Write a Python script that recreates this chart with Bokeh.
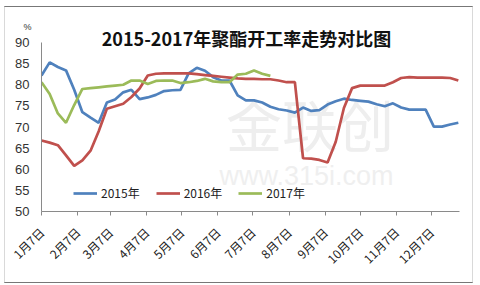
from bokeh.plotting import figure
from bokeh.models import Range1d, FixedTicker, Label, Legend, LegendItem
from bokeh.embed import file_html
from bokeh.resources import INLINE

# ---- data (weekly readings, x = days after 1月7日) ----
tick_days = [0, 31, 59, 90, 120, 151, 181, 212, 243, 273, 304, 334]
tick_labels = ["1月7日", "2月7日", "3月7日", "4月7日", "5月7日", "6月7日",
               "7月7日", "8月7日", "9月7日", "10月7日", "11月7日", "12月7日"]

y2015 = [82.2, 85.3, 84.2, 83.4, 78.8, 73.5, 72.2, 71.0, 75.8, 76.5,
         78.2, 78.8, 76.6, 77.0, 77.6, 78.5, 78.7, 78.8, 82.7, 84.0,
         83.3, 81.8, 81.0, 81.0, 77.5, 76.3, 76.3, 75.8, 74.8, 74.2,
         73.9, 73.4, 74.6, 73.8, 74.0, 75.3, 76.1, 76.7, 76.4, 76.2,
         76.0, 75.4, 74.9, 75.6, 74.6, 74.1, 74.1, 74.1, 70.1, 70.1,
         70.6, 71.0]
y2016 = [66.8, 66.3, 65.7, 63.3, 60.8, 62.1, 64.4, 69.0, 74.3, 74.9,
         75.5, 77.1, 79.1, 82.2, 82.6, 82.7, 82.7, 82.7, 82.7, 82.5,
         82.3, 82.1, 81.9, 81.7, 81.5, 81.4, 81.4, 81.3, 81.3, 81.0,
         80.6, 80.6, 62.6, 62.5, 62.2, 61.6, 66.5, 74.5, 79.2, 79.8,
         79.8, 79.8, 79.8, 80.6, 81.6, 81.8, 81.7, 81.7, 81.7, 81.7,
         81.6, 81.0]
y2017 = [80.6, 77.8, 73.2, 71.0, 75.2, 79.0, 79.2, 79.4, 79.6, 79.8,
         80.0, 81.0, 81.0, 80.2, 80.9, 81.0, 81.0, 80.4, 80.6, 80.9,
         81.4, 80.8, 80.6, 80.6, 82.4, 82.6, 83.4, 82.6, 82.1]
series_names = ["2015年", "2016年", "2017年"]
colors = ["#4F81BD", "#C0504D", "#9BBB59"]

x2015 = [7 * i for i in range(len(y2015))]
x2016 = [7 * i for i in range(len(y2016))]
x2017 = [7 * i for i in range(len(y2017))]

p = figure(width=476, height=285, output_backend="svg", toolbar_location=None,
           x_range=Range1d(0, 358), y_range=Range1d(50, 90),
           min_border_left=41, min_border_right=17, min_border_top=42,
           min_border_bottom=74)
p.outline_line_color = None
p.xgrid.grid_line_color = None
p.ygrid.grid_line_color = None
p.background_fill_color = "white"
p.border_fill_color = "white"

# watermark
wm1 = Label(x=230, y=71, text="金联创", text_font="Noto Sans CJK SC",
            text_font_size="56px", text_color="#eeeeee", text_align="center",
            text_baseline="middle", level="underlay")
wm2 = Label(x=227, y=58.5, text="www.315i.com", text_font="Liberation Sans",
            text_font_size="27px", text_color="#efefef", text_align="center",
            text_baseline="middle", level="underlay")
p.add_layout(wm1)
p.add_layout(wm2)

rs = []
for xs, ys, c in zip([x2015, x2016, x2017], [y2015, y2016, y2017], colors):
    r = p.line(xs, ys, line_color=c, line_width=2.7)
    rs.append(r)

legend = Legend(items=[LegendItem(label=n, renderers=[r]) for n, r in zip(series_names, rs)],
                orientation="horizontal", location=(32, 10),
                background_fill_alpha=0, border_line_color=None,
                glyph_width=24, glyph_height=12, label_standoff=4, spacing=16,
                padding=2, margin=0,
                label_text_font="Noto Sans CJK SC", label_text_font_size="12px",
                label_text_color="#222222")
p.add_layout(legend)

# axes
xa = p.xaxis[0]
xa.ticker = FixedTicker(ticks=tick_days)
xa.major_label_overrides = {d: l for d, l in zip(tick_days, tick_labels)}
xa.major_label_orientation = 0.785398
xa.minor_tick_line_color = None
xa.major_tick_in = 0
xa.major_tick_out = 4
xa.axis_line_color = "#8a8a8a"
xa.major_tick_line_color = "#8a8a8a"
xa.major_label_text_font = "Noto Sans CJK SC"
xa.major_label_text_font_size = "12px"
xa.major_label_text_color = "#222222"
xa.major_label_standoff = 14

ya = p.yaxis[0]
ya.ticker = FixedTicker(ticks=[50, 55, 60, 65, 70, 75, 80, 85, 90])
ya.minor_tick_line_color = None
ya.major_tick_line_color = None
ya.major_tick_in = 0
ya.major_tick_out = 0
ya.axis_line_color = "#8a8a8a"
ya.major_label_text_font = "Liberation Sans"
ya.major_label_text_font_size = "13px"
ya.major_label_text_color = "#333333"
ya.major_label_standoff = 12

# title and unit (placed in the top panel, canvas coordinates)
title = Label(x=246, y=37, x_units="canvas", y_units="canvas",
              text="2015-2017年聚酯开工率走势对比图",
              text_font="Noto Sans CJK SC", text_font_size="18px",
              text_font_style="bold", text_color="#111111",
              text_align="center", text_baseline="middle")
unit = Label(x=27, y=26, x_units="canvas", y_units="canvas", text="%",
             text_font="Liberation Sans", text_font_size="9px",
             text_color="#333333", text_align="center", text_baseline="middle")
p.add_layout(title, "above")
p.add_layout(unit, "above")

# outer frame of the chart area: four thin filled strips, one per side panel
def strip(cx, cy, pad):
    return Label(x=cx, y=cy, x_units="canvas", y_units="canvas", text=" ",
                 text_font_size="1px", text_align="center",
                 text_baseline="middle", padding=pad,
                 border_line_color=None, background_fill_color="#777777")

p.add_layout(strip(238, 6, (234, 0)), "above")
p.add_layout(strip(238, 282, (234, 0)), "below")
p.add_layout(strip(4, 144, (0, 138)), "left")
p.add_layout(strip(472, 144, (0, 138)), "right")

open("out.html", "w").write(file_html(p, INLINE))
